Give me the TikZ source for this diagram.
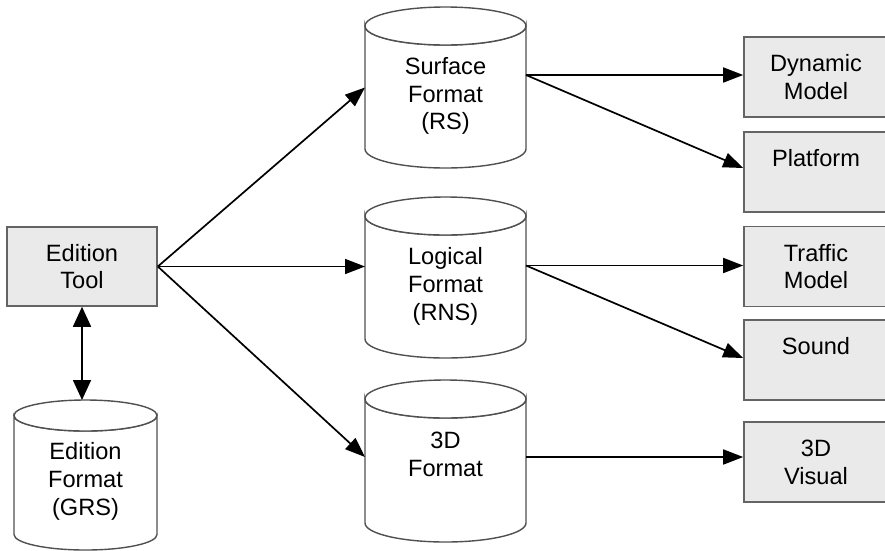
\documentclass[tikz,border=0pt]{standalone}
\usepackage{fontspec}
\setmainfont{Liberation Sans}
\usetikzlibrary{arrows.meta,calc}
\definecolor{boxfill}{RGB}{234,234,234}
\definecolor{boxline}{RGB}{100,100,100}
\definecolor{cylline}{RGB}{80,80,80}
\newcommand\txtfont{\fontsize{23.6}{27.8}\selectfont}
% cylinder drawing: cx, a, yt, yb, ry
\newcommand\mycyl[5]{%
  \filldraw[cylst] (#1-#2,#3) -- (#1-#2,#4)
    arc[start angle=180,end angle=0,x radius=#2,y radius=#5] -- (#1+#2,#3)
    arc[start angle=0,end angle=180,x radius=#2,y radius=#5] -- cycle;
  \draw[cylst] (#1,#3) ellipse[x radius=#2,y radius=#5];}
\begin{document}
\begin{tikzpicture}[x=1pt,y=1pt,yscale=-1,
  cylst/.style={draw=cylline,fill=white,line width=1.4pt},
  boxst/.style={draw=boxline,fill=boxfill,line width=1.6pt,inner sep=0pt,
    align=center,font=\txtfont},
  rbox/.style={boxst,minimum width=144pt,minimum height=80pt},
  anchorbox/.style={inner sep=0pt,outer sep=0pt},
  txt/.style={inner sep=0pt,align=center,font=\txtfont},
  arr/.style={-{Triangle[length=20pt,width=15pt]},line width=1.7pt},
  darr/.style={{Triangle[length=20pt,width=18pt]}-{Triangle[length=20pt,width=18pt]},line width=1.7pt}]
\useasboundingbox (0,0) rectangle (885,550);
\clip (0,0) rectangle (885,550);

% cylinders
\mycyl{445.5}{80.5}{26}{149}{19}
\node[anchorbox,minimum width=161pt,minimum height=161pt] (sf) at (445.5,87.5) {};
\node[txt] (sft) at (445.5,96) {Surface\\Format\\(RS)};

\mycyl{445.5}{80.5}{216}{339}{19}
\node[anchorbox,minimum width=161pt,minimum height=161pt] (lf) at (445.5,277.5) {};
\node[txt] (lft) at (445.5,286.5) {Logical\\Format\\(RNS)};

\mycyl{445.5}{80.5}{399}{523}{19}
\node[anchorbox,minimum width=161pt,minimum height=162pt] (tf) at (445.5,461) {};
\node[txt] (tft) at (445.5,454.5) {3D\\Format};

\mycyl{85.5}{71.5}{415.5}{534.5}{15.5}
\node[anchorbox,minimum width=143pt,minimum height=150pt] (grs) at (85.5,475) {};
\node[txt] (grst) at (85.5,481.5) {Edition\\Format\\(GRS)};

% boxes
\node[boxst,minimum width=150pt,minimum height=79pt] (et) at (82,266.5) {Edition\\Tool};
\node[rbox] (dm) at (816,77) {Dynamic\\Model};
\node[rbox] (pf) at (816,172) {Platform\\\mbox{}};
\node[rbox] (tm) at (816,266.5) {Traffic\\Model};
\node[rbox] (snd) at (816,360) {Sound\\\mbox{}};
\node[rbox] (tv) at (816,462) {3D\\Visual};

% connectors
\draw[arr] (et.east) -- (sf.west);
\draw[arr] (et.east) -- (lf.west |- et.east);
\draw[arr] (et.east) -- ($(tf.west)+(0,-4)$);
\draw[darr] (et.south) -- (et.south |- grs.north);

\coordinate (sfo) at ($(sf.east)+(0,-12.5)$);
\draw[arr] (sfo) -- (sfo -| dm.west);
\draw[arr] (sfo) -- ($(pf.west)+(0,-4)$);

\coordinate (lfo) at ($(lf.east)+(0,-12)$);
\draw[arr] (lfo) -- (lfo -| tm.west);
\draw[arr] (lfo) -- ($(snd.west)+(0,-2)$);

\coordinate (tfo) at ($(tf.east)+(0,-4)$);
\draw[arr] (tfo) -- (tfo -| tv.west);
\end{tikzpicture}
\end{document}
